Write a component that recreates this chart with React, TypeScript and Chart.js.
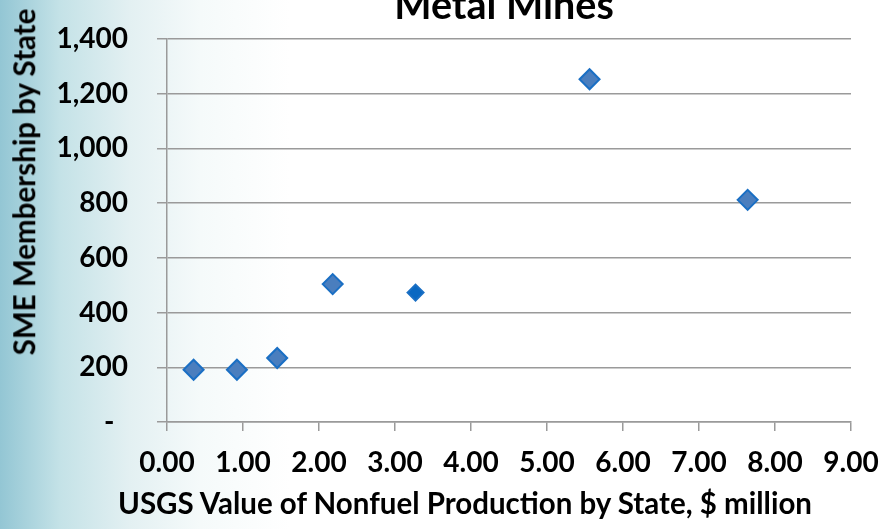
import React, { useEffect, useRef } from "react";
import { Chart, registerables } from "chart.js";

Chart.register(...registerables);

const chartTitle = "Metal Mines";
const xAxisTitle = "USGS Value of Nonfuel Production by State, $ million";
const yAxisTitle = "SME Membership by State";

// USGS value of nonfuel production ($ million) per state
const productionValues = [0.35, 0.92, 1.45, 2.18, 3.27, 5.56, 7.64];
// SME membership per state
const membershipValues = [191, 191, 234, 504, 473, 1253, 812];

const xMin = 0;
const xMax = 9;
const yMin = 0;
const yMax = 1400;
const yStep = 200;

const FONT = "Lato, 'Open Sans', sans-serif";

export default function App() {
  const canvasRef = useRef<HTMLCanvasElement | null>(null);

  useEffect(() => {
    const canvas = canvasRef.current;
    if (!canvas) return;
    const points = productionValues.map((x, i) => ({ x, y: membershipValues[i] }));
    const chart = new Chart(canvas, {
      type: "scatter",
      data: {
        datasets: [
          {
            label: "States",
            data: points,
            pointStyle: "rectRot",
            pointRadius: [10, 10, 10, 10, 8, 10, 10],
            pointHoverRadius: [10, 10, 10, 10, 8, 10, 10],
            pointBackgroundColor: ["#4a7ebe", "#4a7ebe", "#4a7ebe", "#4a7ebe", "#0a68c2", "#4a7ebe", "#4a7ebe"],
            pointBorderColor: "#1a6fc4",
            pointBorderWidth: 2,
          },
        ],
      },
      options: {
        responsive: false,
        animation: false,
        layout: { padding: { top: 39, right: 33, left: 0, bottom: 0 } },
        plugins: {
          legend: { display: false },
          tooltip: { enabled: false },
          title: { display: false },
        },
        scales: {
          x: {
            type: "linear",
            min: xMin,
            max: xMax,
            afterFit: (scale: any) => {
              scale.height = 107;
              scale.paddingLeft = 0;
              scale.paddingRight = 0;
            },
            ticks: {
              stepSize: 1,
              padding: 15,
              color: "#000",
              font: { family: FONT, size: 28, weight: "bold" },
              callback: (v: any) => Number(v).toFixed(2),
              maxRotation: 0,
            },
            grid: {
              drawOnChartArea: false,
              drawTicks: true,
              tickLength: 9,
              color: "#9a9a9a",
              lineWidth: 1.5,
            },
            border: { display: true, color: "#9a9a9a", width: 1.5 },
          },
          y: {
            type: "linear",
            min: yMin,
            max: yMax,
            afterFit: (scale: any) => {
              scale.width = 167;
              scale.paddingTop = 0;
              scale.paddingBottom = 0;
            },
            ticks: {
              stepSize: yStep,
              padding: 29,
              color: "#000",
              font: { family: FONT, size: 28, weight: "bold" },
              callback: (v: any) => (Number(v) === 0 ? "-  " : Number(v).toLocaleString("en-US")),
            },
            grid: {
              drawOnChartArea: true,
              drawTicks: true,
              tickLength: 10,
              color: "#9a9a9a",
              lineWidth: 1.5,
            },
            border: { display: true, color: "#9a9a9a", width: 1.5 },
          },
        },
      },
    });
    return () => chart.destroy();
  }, []);

  const textBase: React.CSSProperties = {
    position: "absolute",
    fontFamily: FONT,
    fontWeight: "bold",
    color: "#000",
    whiteSpace: "nowrap",
    lineHeight: 1,
  };

  return (
    <div
      style={{
        position: "fixed",
        left: 0,
        top: 0,
        width: 884,
        height: 529,
        overflow: "hidden",
        background:
          "linear-gradient(to right, #93c6d4 0px, #c4e2e7 60px, #e3f0f2 130px, #f5fafa 200px, #ffffff 290px)",
      }}
    >
      <canvas ref={canvasRef} width={884} height={529} style={{ position: "absolute", left: 0, top: 0 }} />
      <div style={{ ...textBase, fontSize: 39.5, left: 504, top: 4, transform: "translate(-50%, -50%)" }}>
        {chartTitle}
      </div>
      <div style={{ ...textBase, fontSize: 29.5, left: 465, top: 503, transform: "translate(-50%, -50%)" }}>
        {xAxisTitle}
      </div>
      <div
        style={{
          ...textBase,
          fontSize: 29.5,
          left: 24,
          top: 182,
          transform: "translate(-50%, -50%) rotate(-90deg)",
        }}
      >
        {yAxisTitle}
      </div>
    </div>
  );
}
